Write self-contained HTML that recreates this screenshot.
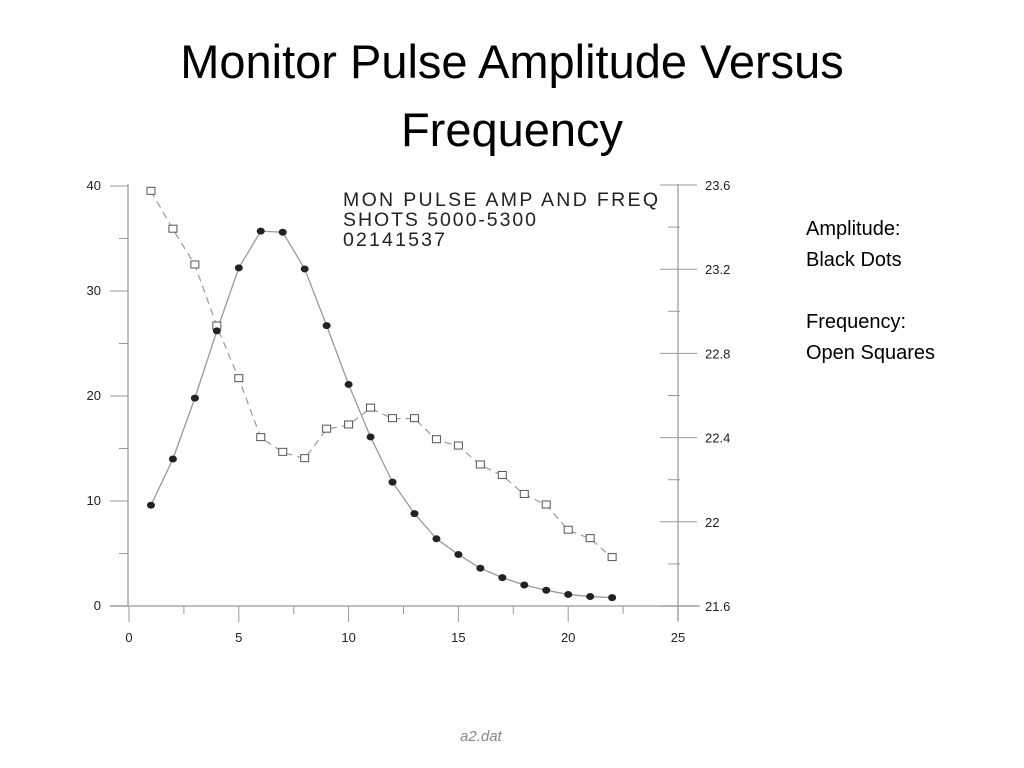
<!DOCTYPE html>
<html><head><meta charset="utf-8"><style>
body{margin:0;background:#fff;width:1024px;height:768px;overflow:hidden;font-family:"Liberation Sans",sans-serif}
#title{position:absolute;left:0;top:28px;width:1024px;text-align:center;font-size:47px;line-height:68px;color:#000;font-family:"Liberation Sans",sans-serif}
#legend{position:absolute;left:806px;top:214px;font-size:20px;line-height:31px;color:#000}
</style></head><body>
<div id="title">Monitor Pulse Amplitude Versus<br>Frequency</div>
<div id="legend">Amplitude:<br>Black Dots<br><br>Frequency:<br>Open Squares</div>
<svg id="chart" width="1024" height="768" style="position:absolute;left:0;top:0" xmlns="http://www.w3.org/2000/svg"></svg>
<script>
const xValues=[1,2,3,4,5,6,7,8,9,10,11,12,13,14,15,16,17,18,19,20,21,22];
const amplitude=[9.6,14.0,19.8,26.2,32.2,35.7,35.6,32.1,26.7,21.1,16.1,11.8,8.8,6.4,4.9,3.6,2.7,2.0,1.5,1.1,0.9,0.8];
const frequency=[23.57,23.39,23.22,22.93,22.68,22.40,22.33,22.30,22.44,22.46,22.54,22.49,22.49,22.39,22.36,22.27,22.22,22.13,22.08,21.96,21.92,21.83];
const xTicks=[0,5,10,15,20,25];
const leftTicks=[0,10,20,30,40];
const rightTicks=[21.6,22,22.4,22.8,23.2,23.6];
const chartText=["MON PULSE AMP AND FREQ","SHOTS 5000-5300","02141537"];
const fx=v=>129+v*21.96;
const fyL=v=>606-v*10.5;
const fyR=v=>606-(v-21.6)*210.5;
const svg=document.getElementById('chart');
const NS='http://www.w3.org/2000/svg';
function mk(t,a){const e=document.createElementNS(NS,t);for(const k in a)e.setAttribute(k,a[k]);svg.appendChild(e);return e;}
let e;
e=mk('line',{x1:110,y1:606,x2:700,y2:606,stroke:'#aaa','stroke-width':1.5});

e=mk('line',{x1:128,y1:184,x2:128,y2:606,stroke:'#aaa','stroke-width':1.5});

e=mk('line',{x1:678,y1:184,x2:678,y2:620,stroke:'#aaa','stroke-width':1.5});

for(let i=0;i<xTicks.length;i++){
  const v=xTicks[i];
  e=mk('line',{x1:fx(v),y1:606,x2:fx(v),y2:622,stroke:'#999','stroke-width':1});
  
  if(i<xTicks.length-1){e=mk('line',{x1:fx(v+2.5),y1:606,x2:fx(v+2.5),y2:614,stroke:'#999','stroke-width':1});
  }
  e=mk('text',{x:fx(v),y:642,'font-size':13,'text-anchor':'middle',fill:'#222'});e.textContent=v;
  
}
for(let i=0;i<leftTicks.length;i++){
  const v=leftTicks[i];
  e=mk('line',{x1:110,y1:fyL(v),x2:128,y2:fyL(v),stroke:'#999','stroke-width':1});
  
  if(i<leftTicks.length-1){e=mk('line',{x1:119,y1:fyL(v+5),x2:128,y2:fyL(v+5),stroke:'#999','stroke-width':1});
  }
  e=mk('text',{x:101,y:fyL(v)+4,'font-size':13,'text-anchor':'end',fill:'#222'});e.textContent=v;
  
}
for(let i=0;i<rightTicks.length;i++){
  const v=rightTicks[i];
  e=mk('line',{x1:660,y1:fyR(v),x2:697,y2:fyR(v),stroke:'#999','stroke-width':1});
  
  if(i<rightTicks.length-1){e=mk('line',{x1:668,y1:fyR(v+0.2),x2:680,y2:fyR(v+0.2),stroke:'#999','stroke-width':1});
  }
  e=mk('text',{x:705,y:fyR(v)+5,'font-size':13,fill:'#222'});e.textContent=(v%1===0?v:v.toFixed(1));
  
}
for(let i=0;i<chartText.length;i++){
  e=mk('text',{x:343,y:206+i*20,'font-size':19.5,fill:'#222',textLength:[315,193,102][i]});e.textContent=chartText[i];
  
}
e=mk('polyline',{points:xValues.map((x,i)=>fx(x)+','+fyR(frequency[i])).join(' '),fill:'none',stroke:'#999','stroke-width':1.2,'stroke-dasharray':'7,5'});

e=mk('polyline',{points:xValues.map((x,i)=>fx(x)+','+fyL(amplitude[i])).join(' '),fill:'none',stroke:'#999','stroke-width':1.3});

xValues.forEach((x,i)=>{
  e=mk('rect',{x:fx(x)-4,y:fyR(frequency[i])-4,width:8,height:7,fill:'#fff',stroke:'#555','stroke-width':1});
  
  e=mk('ellipse',{cx:fx(x),cy:fyL(amplitude[i]),rx:4,ry:3.5,fill:'#222'});
  
});
e=mk('text',{x:460,y:741,'font-size':15,fill:'#888','font-style':'italic'});e.textContent='a2.dat';

</script>
</body></html>
